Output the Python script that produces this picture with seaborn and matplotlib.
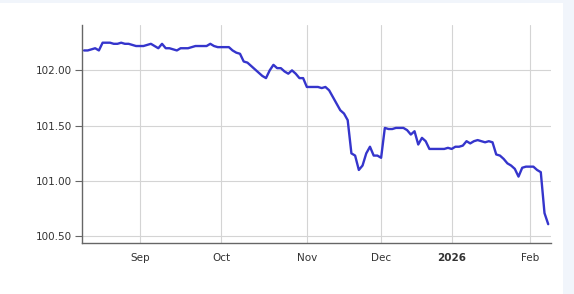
import numpy as np
import pandas as pd
import matplotlib
matplotlib.use("Agg")
import matplotlib.pyplot as plt
from matplotlib.patches import Rectangle
import seaborn as sns

# Daily closing values by month (trading days)
aug = [102.18, 102.18, 102.19, 102.20, 102.18, 102.25, 102.25, 102.25, 102.24, 102.24,
       102.25, 102.24, 102.24, 102.23, 102.22]
sep = [102.22, 102.22, 102.23, 102.24, 102.22, 102.20, 102.24, 102.20, 102.20, 102.19,
       102.18, 102.20, 102.20, 102.20, 102.21, 102.22, 102.22, 102.22, 102.22, 102.24,
       102.22, 102.21]
oct_ = [102.21, 102.21, 102.21, 102.18, 102.16, 102.15, 102.08, 102.07, 102.04, 102.01,
        101.98, 101.95, 101.93, 102.00, 102.05, 102.02, 102.02, 101.99, 101.97, 102.00,
        101.97, 101.93, 101.93]
nov = [101.85, 101.85, 101.85, 101.85, 101.84, 101.85, 101.82, 101.76, 101.70, 101.64,
       101.61, 101.55, 101.25, 101.23, 101.10, 101.14, 101.25, 101.31, 101.23, 101.23]
dec = [101.21, 101.48, 101.47, 101.47, 101.48, 101.48, 101.48, 101.46, 101.42, 101.45,
       101.33, 101.39, 101.36, 101.29, 101.29, 101.29, 101.29, 101.29, 101.30]
jan = [101.29, 101.31, 101.31, 101.32, 101.36, 101.34, 101.36, 101.37, 101.36, 101.35,
       101.36, 101.35, 101.24, 101.23, 101.20, 101.16, 101.14, 101.11, 101.04, 101.12,
       101.13]
feb = [101.13, 101.13, 101.10, 101.08, 100.71, 100.61]

holidays = ["2025-12-24", "2025-12-25", "2025-12-26", "2025-12-31", "2026-01-01"]
tick_labels = ["Sep", "Oct", "Nov", "Dec", "2026", "Feb"]
y_ticks = [100.50, 101.00, 101.50, 102.00]

values = aug + sep + oct_ + nov + dec + jan + feb
dates = pd.bdate_range("2025-08-11", periods=len(values), freq="C", holidays=holidays)
df = pd.DataFrame({"date": dates, "value": values})
df["pos"] = np.arange(len(df))

# tick positions: first trading day of each month
month_key = df["date"].dt.to_period("M")
first_idx = df.groupby(month_key)["pos"].min().values[1:]

sns.set_style("white")
fig = plt.figure(figsize=(5.74, 2.94), dpi=100, facecolor="#f1f5fb")
fig.patches.append(Rectangle((0, 0), 563 / 574, 291 / 294, transform=fig.transFigure,
                             facecolor="white", edgecolor="none", zorder=-1))
ax = fig.add_axes([82 / 574, 51 / 294, 469 / 574, 218 / 294])
ax.set_facecolor("white")

sns.lineplot(data=df, x="pos", y="value", ax=ax, color="#3535cc", linewidth=1.7)

ax.set_xlim(-0.55, len(df) - 1 + 0.75)
ax.set_ylim(100.44, 102.41)
ax.set_xticks(first_idx)
ax.set_xticklabels(tick_labels)
for lbl in ax.get_xticklabels():
    if lbl.get_text() == "2026":
        lbl.set_fontweight("bold")
ax.set_yticks(y_ticks)
ax.set_yticklabels([f"{v:.2f}" for v in y_ticks])

ax.grid(True, color="#d4d4d4", linewidth=0.8)
ax.set_axisbelow(True)
for s in ["top", "right"]:
    ax.spines[s].set_visible(False)
for s in ["left", "bottom"]:
    ax.spines[s].set_color("#666666")
    ax.spines[s].set_linewidth(1.0)

ax.tick_params(axis="y", length=5, width=0.8, color="#666666", pad=2,
               labelsize=7.5, labelcolor="#333333", left=True)
ax.tick_params(axis="x", length=0, pad=7, labelsize=7.5, labelcolor="#333333")
ax.set_xlabel("")
ax.set_ylabel("")

fig.savefig("out.png", dpi=100, facecolor=fig.get_facecolor())
